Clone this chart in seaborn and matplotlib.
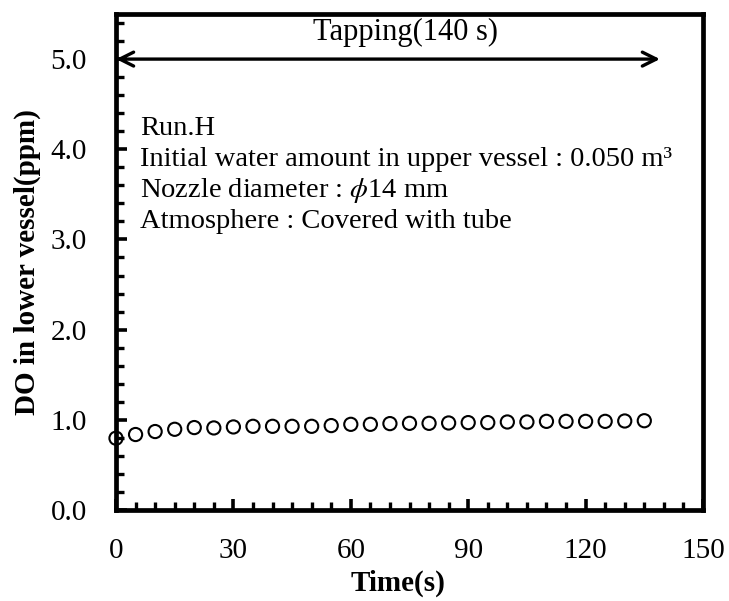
import numpy as np
import pandas as pd
import matplotlib
matplotlib.use("Agg")
import matplotlib.pyplot as plt
from matplotlib.ticker import MultipleLocator
import seaborn as sns

# Measured dissolved oxygen in the lower vessel during tapping
time_s = [0, 5, 10, 15, 20, 25, 30, 35, 40, 45, 50, 55, 60, 65, 70,
          75, 80, 85, 90, 95, 100, 105, 110, 115, 120, 125, 130, 135]
do_ppm = [0.796, 0.837, 0.870, 0.895, 0.914, 0.910, 0.921, 0.928, 0.928, 0.928,
          0.928, 0.936, 0.950, 0.950, 0.958, 0.961, 0.961, 0.965, 0.969, 0.969,
          0.976, 0.976, 0.983, 0.983, 0.983, 0.983, 0.987, 0.990]

tapping_end = 139
tapping_label = "Tapping(140 s)"
run_lines = [
    "Run.H",
    "Initial water amount in upper vessel : 0.050 m³",
    "Nozzle diameter : $\\phi$14 mm",
    "Atmosphere : Covered with tube",
]
x_ticks = [0, 30, 60, 90, 120, 150]
y_ticks = [0.0, 1.0, 2.0, 3.0, 4.0, 5.0]

sns.set_style("ticks")
plt.rcParams["font.family"] = ["Liberation Serif", "DejaVu Serif"]
plt.rcParams["mathtext.fontset"] = "stix"
plt.rcParams["text.color"] = "black"
plt.rcParams["axes.labelcolor"] = "black"

df = pd.DataFrame({"Time": time_s, "DO": do_ppm})

W, H = 729, 601
fig = plt.figure(figsize=(W / 100, H / 100), dpi=100)
ax = fig.add_axes([116 / W, 1 - 510 / H, (703 - 116) / W, (510 - 14) / H])

sns.scatterplot(data=df, x="Time", y="DO", ax=ax, marker="o", s=90,
                facecolor="none", edgecolor="black", linewidth=1.5,
                legend=False, zorder=3, clip_on=False)

ax.set_xlim(0, 150)
ax.set_ylim(0, 5.5)
ax.set_xticks(x_ticks)
ax.set_yticks(y_ticks)
ax.set_xticklabels([str(v) for v in x_ticks])
ax.set_yticklabels([f"{v:.1f}" for v in y_ticks])
ax.xaxis.set_minor_locator(MultipleLocator(5))
ax.yaxis.set_minor_locator(MultipleLocator(0.2))

for side in ["left", "bottom", "right", "top"]:
    ax.spines[side].set_linewidth(3.4)
    ax.spines[side].set_color("black")

ax.tick_params(which="both", direction="in", top=False, right=False,
               colors="black", labelsize=21)
ax.tick_params(which="major", length=8, width=2.6)
ax.tick_params(which="minor", length=5.5, width=2.4)
ax.tick_params(axis="x", which="major", pad=20)
ax.tick_params(axis="y", which="major", pad=21)

ax.set_xlabel("Time(s)", fontsize=21, fontweight="bold")
ax.xaxis.set_label_coords(0.48, -0.121)
ax.set_ylabel("DO in lower vessel(ppm)", fontsize=21, fontweight="bold",
              labelpad=7)

# Tapping period arrow
ax.annotate("", xy=(0, 5.0), xytext=(tapping_end, 5.0),
            arrowprops=dict(arrowstyle="<->,head_length=1.0,head_width=0.5",
                            color="black", lw=2.4, shrinkA=0, shrinkB=0))
ax.text(74, 5.3, tapping_label, ha="center", va="center", fontsize=22)

# Run conditions
y0 = 4.23
for i, line in enumerate(run_lines):
    ax.text(6.2, y0 - i * 0.343, line, ha="left", va="center", fontsize=20.5)

fig.savefig("out.png", dpi=100)
